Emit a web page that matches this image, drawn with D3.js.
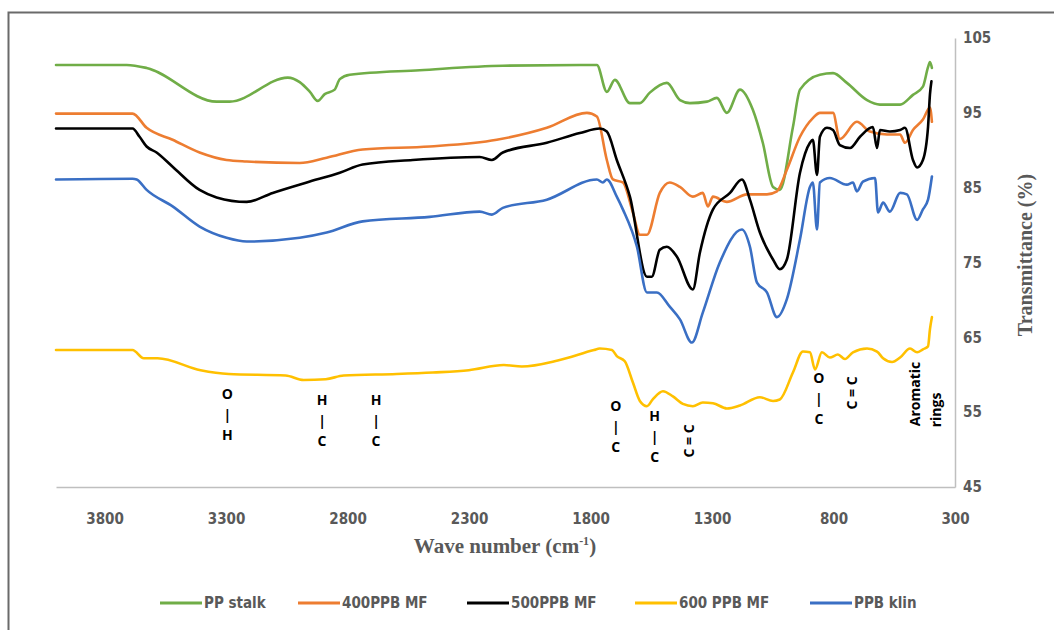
<!DOCTYPE html>
<html><head><meta charset="utf-8">
<script src="https://cdn.jsdelivr.net/npm/d3@7"></script>
<style>
body{margin:0;background:#fff;}
svg{display:block;}
</style></head>
<body>
<svg id="chart" width="1054" height="630"></svg>
<script>
// ---- data ----
const xTicks = [3800, 3300, 2800, 2300, 1800, 1300, 800, 300];
const yTicks = [45, 55, 65, 75, 85, 95, 105];
const seriesNames = ["PP stalk", "400PPB MF", "500PPB MF", "600 PPB MF", "PPB klin"];
const seriesColors = ["#70AD47", "#ED7D31", "#000000", "#FFC000", "#3A6FC4"];

const ppStalk = [[4000,101.4],[3709,101.4],[3627,101.0],[3339,96.5],[3285,96.5],[3046,99.7],[2997,99.1],[2955,97.8],[2923,96.6],[2894,97.5],[2853,98.1],[2832,99.5],[2791,100.1],[2503,100.7],[2161,101.3],[1774,101.4],[1733,97.8],[1700,99.4],[1638,96.3],[1597,96.3],[1556,97.7],[1486,99.0],[1432,96.7],[1391,96.3],[1321,96.5],[1280,97.0],[1239,95.0],[1185,98.1],[1132,95.4],[1091,91.0],[1049,85.1],[1021,84.7],[967,93.1],[938,98.1],[856,100.1],[802,100.3],[745,99.0],[662,96.7],[609,96.1],[526,96.1],[473,97.4],[432,98.5],[411,101.1],[403,101.8],[395,101.0]];

const ppb400 = [[4000,94.9],[3685,94.9],[3627,93.0],[3520,91.4],[3409,89.7],[3298,88.7],[3215,88.5],[2997,88.3],[2886,89.0],[2738,90.1],[2462,90.5],[2186,91.4],[1980,93.0],[1815,95.0],[1774,94.5],[1733,88.7],[1708,86.1],[1667,85.7],[1626,81.7],[1597,78.7],[1568,78.7],[1515,84.3],[1474,85.7],[1432,85.1],[1379,83.8],[1338,84.3],[1317,82.5],[1296,83.8],[1239,83.1],[1156,84.1],[1074,84.1],[1033,84.5],[992,87.4],[938,91.8],[885,94.3],[856,95.0],[802,95.0],[774,91.5],[704,93.8],[650,92.5],[580,92.1],[526,92.1],[506,91.0],[473,92.7],[432,94.1],[403,95.7],[395,93.8]];

const ppb500 = [[4000,92.9],[3685,92.9],[3656,91.8],[3627,90.5],[3586,89.7],[3520,87.8],[3409,84.7],[3339,83.7],[3215,83.1],[3108,84.3],[2968,85.7],[2832,87.0],[2738,88.1],[2532,88.7],[2256,89.1],[2206,88.7],[2161,89.7],[1980,91.0],[1844,92.3],[1762,92.9],[1733,92.5],[1692,88.7],[1638,83.8],[1568,73.1],[1548,73.1],[1515,76.7],[1486,77.1],[1445,75.8],[1379,71.4],[1350,76.3],[1296,82.1],[1226,84.3],[1177,86.1],[1144,83.4],[1103,79.0],[1049,75.4],[1021,74.1],[992,75.4],[938,87.0],[897,91.0],[885,91.4],[868,86.7],[856,91.8],[827,93.0],[802,92.7],[774,90.7],[732,90.3],[691,91.8],[638,93.1],[621,90.3],[609,92.7],[568,92.5],[526,92.7],[506,93.0],[473,88.7],[456,87.7],[432,88.7],[411,93.1],[403,97.5],[397,99.2]];

const ppb600 = [[4000,63.3],[3685,63.3],[3639,62.2],[3582,62.2],[3405,60.6],[3289,60.1],[3055,59.9],[2981,59.3],[2890,59.4],[2816,59.9],[2598,60.1],[2449,60.3],[2301,60.6],[2157,61.3],[2083,61.1],[1935,61.9],[1786,63.3],[1762,63.5],[1712,63.3],[1692,62.5],[1659,61.8],[1626,59.0],[1597,56.5],[1568,55.8],[1544,56.7],[1502,57.8],[1461,57.1],[1420,56.1],[1379,55.8],[1338,56.3],[1296,56.2],[1239,55.5],[1185,55.9],[1103,57.0],[1049,56.5],[1021,56.7],[967,60.3],[926,63.1],[897,63.0],[876,60.7],[848,63.0],[815,62.3],[782,62.7],[753,62.1],[720,63.0],[662,63.5],[621,63.1],[596,62.2],[559,61.7],[526,62.3],[485,63.5],[456,63.0],[432,63.4],[411,63.8],[403,66.1],[395,67.7]];

const ppbKlin = [[4000,86.1],[3685,86.2],[3668,86.1],[3627,84.7],[3520,82.5],[3409,79.8],[3298,78.3],[3215,77.8],[2997,78.3],[2886,79.0],[2738,80.5],[2462,81.1],[2256,81.8],[2206,81.4],[2161,82.3],[1980,83.4],[1774,86.1],[1749,85.7],[1733,86.1],[1692,83.8],[1667,82.1],[1609,77.1],[1568,71.0],[1527,71.0],[1474,69.1],[1432,67.4],[1383,64.3],[1338,68.3],[1268,75.0],[1177,79.4],[1144,77.1],[1115,72.3],[1074,71.0],[1033,67.7],[992,70.1],[938,78.1],[897,85.1],[885,85.7],[868,79.4],[856,85.7],[815,86.3],[745,85.4],[720,85.7],[704,84.5],[679,85.8],[629,86.3],[617,81.7],[596,83.0],[568,81.8],[526,84.3],[498,84.1],[456,80.7],[432,82.1],[411,83.4],[395,86.5]];

const allSeries = [ppStalk, ppb400, ppb500, ppb600, ppbKlin];

const stackedLabels = [
  {wn: 3295, top: "O", bottom: "H", y: 394},
  {wn: 2905, top: "H", bottom: "C", y: 400},
  {wn: 2683, top: "H", bottom: "C", y: 400},
  {wn: 1696, top: "O", bottom: "C", y: 406},
  {wn: 1536, top: "H", bottom: "C", y: 416},
  {wn: 860, top: "O", bottom: "C", y: 378}
];
const rotatedLabels = [
  {wn: 1395, text: "C = C", y: 441},
  {wn: 725, text: "C = C", y: 393},
  {wn: 465, text: "Aromatic", y: 394},
  {wn: 380, text: "rings", y: 410}
];

// ---- drawing ----
const svg = d3.select("#chart");
const mLeft = 56, mRight = 955, mTop = 38, mBottom = 487;
const x = d3.scaleLinear().domain([4000, 300]).range([mLeft, mRight]);
const y = d3.scaleLinear().domain([45, 105]).range([mBottom, mTop]);

svg.append("rect").attr("x", 8.5).attr("y", 12.5).attr("width", 1100).attr("height", 700)
  .attr("fill", "none").attr("stroke", "#6a6a6a").attr("stroke-width", 2);

const tickFont = "'Liberation Sans Narrow','DejaVu Sans Condensed',sans-serif";
const xAxis = svg.append("g").attr("transform", `translate(0,${mBottom})`)
  .call(d3.axisBottom(x).tickValues(xTicks).tickFormat(d3.format("d")).tickSize(0).tickPadding(26).tickSizeOuter(0));
xAxis.select(".domain").attr("stroke", "#BFBFBF").attr("stroke-width", 1.5);
xAxis.selectAll("text").attr("font-family", tickFont)
  .attr("font-weight", "bold").attr("font-size", 15).attr("fill", "#595959");

const yAxis = svg.append("g").attr("transform", `translate(${mRight},0)`)
  .call(d3.axisRight(y).tickValues(yTicks).tickFormat(d3.format("d")).tickSize(0).tickPadding(8).tickSizeOuter(0));
yAxis.select(".domain").attr("stroke", "#BFBFBF").attr("stroke-width", 1.5);
yAxis.selectAll("text").attr("font-family", tickFont)
  .attr("font-weight", "bold").attr("font-size", 15).attr("fill", "#595959");

const line = d3.line().x(d => x(d[0])).y(d => y(d[1])).curve(d3.curveMonotoneX);
allSeries.forEach((s, i) => {
  svg.append("path").datum(s).attr("d", line).attr("fill", "none")
    .attr("stroke", seriesColors[i]).attr("stroke-width", 2.6)
    .attr("stroke-linejoin", "round").attr("stroke-linecap", "round");
});

const annFont = "'Open Sans','DejaVu Sans',sans-serif";
stackedLabels.forEach(a => {
  const g = svg.append("g").attr("font-family", annFont).attr("font-weight", "bold")
    .attr("font-size", 14).attr("text-anchor", "middle").attr("fill", "#000");
  g.append("text").attr("x", x(a.wn)).attr("y", a.y + 5).text(a.top);
  g.append("text").attr("x", x(a.wn)).attr("y", a.y + 26).text("|");
  g.append("text").attr("x", x(a.wn)).attr("y", a.y + 46).text(a.bottom);
});
rotatedLabels.forEach(a => {
  svg.append("text").attr("transform", `translate(${x(a.wn) + 5},${a.y}) rotate(-90)`)
    .attr("text-anchor", "middle")
    .attr("font-family", annFont).attr("font-weight", "bold").attr("font-size", 14)
    .attr("fill", "#000").text(a.text);
});

const xt = svg.append("text").attr("x", 505).attr("y", 553).attr("text-anchor", "middle")
  .attr("font-family", "'Liberation Serif','Times New Roman',serif").attr("font-weight", "bold")
  .attr("font-size", 21).attr("fill", "#595959");
xt.append("tspan").text("Wave number  (cm");
xt.append("tspan").attr("dy", -8).attr("font-size", 12).text("-1");
xt.append("tspan").attr("dy", 8).text(")");

svg.append("text").attr("transform", "translate(1032,255) rotate(-90)").attr("text-anchor", "middle")
  .attr("font-family", "'Liberation Serif','Times New Roman',serif").attr("font-weight", "bold")
  .attr("font-size", 20).attr("fill", "#595959").text("Transmittance (%)");

const legendX = [160, 298, 467, 635, 810];
const legend = svg.append("g");
seriesNames.forEach((n, i) => {
  legend.append("line").attr("x1", legendX[i]).attr("x2", legendX[i] + 42)
    .attr("y1", 603).attr("y2", 603).attr("stroke", seriesColors[i]).attr("stroke-width", 3);
  legend.append("text").attr("x", legendX[i] + 44).attr("y", 608)
    .attr("font-family", tickFont)
    .attr("font-size", 15).attr("font-weight", "bold").attr("fill", "#595959").text(n);
});
</script>
</body></html>
